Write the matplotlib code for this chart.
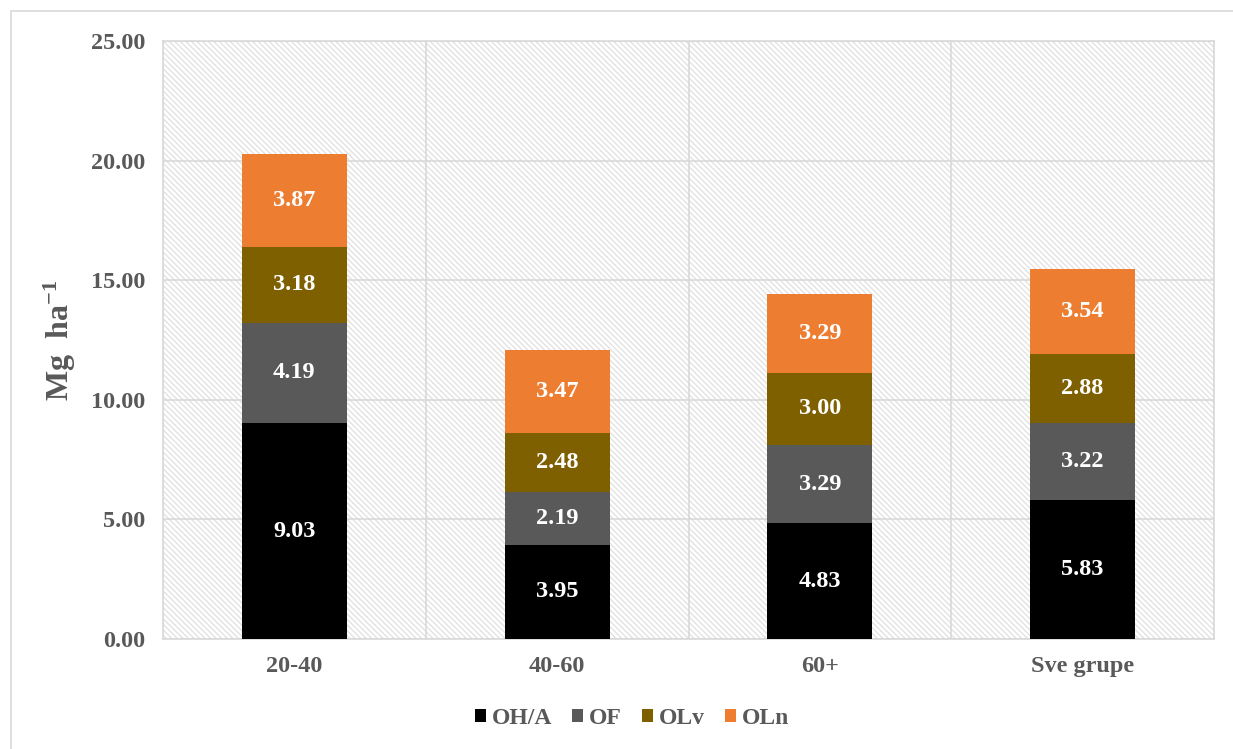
import matplotlib
matplotlib.use("Agg")
import matplotlib.pyplot as plt
from matplotlib.patches import Rectangle
import numpy as np

categories = ["20-40", "40-60", "60+", "Sve grupe"]
series_names = ["OH/A", "OF", "OLv", "OLn"]
oha = [9.03, 3.95, 4.83, 5.83]
of = [4.19, 2.19, 3.29, 3.22]
olv = [3.18, 2.48, 3.00, 2.88]
oln = [3.87, 3.47, 3.29, 3.54]
colors = ["#000000", "#595959", "#7F6000", "#ED7D31"]
yticks = [0, 5, 10, 15, 20, 25]

plt.rcParams['font.family'] = ['Liberation Serif', 'DejaVu Serif']
plt.rcParams['mathtext.fontset'] = 'custom'
plt.rcParams['mathtext.rm'] = 'Liberation Serif:bold'
plt.rcParams['mathtext.it'] = 'Liberation Serif:bold'
plt.rcParams['mathtext.bf'] = 'Liberation Serif:bold'
plt.rcParams['hatch.color'] = '#e0e0e0'
plt.rcParams['hatch.linewidth'] = 0.9

W, H = 1233, 749
fig = plt.figure(figsize=(W/100, H/100), dpi=100)
ax = fig.add_axes([163/W, 1 - 639/H, (1214-163)/W, (639-41)/H])

# outer frame
fig.patches.append(Rectangle((11/W, -0.1), 1.2, (749-11)/H + 0.1, transform=fig.transFigure,
                             fill=False, edgecolor='#d9d9d9', linewidth=1.2))

# hatched background
ax.patch.set_facecolor('white')
bg = Rectangle((0, 0), 1, 1, transform=ax.transAxes, facecolor='white',
               edgecolor='#e0e0e0', hatch='\\\\\\\\\\\\', linewidth=0, zorder=0)
ax.add_patch(bg)

x = np.arange(len(categories))
bottom = np.zeros(len(categories))
text_color = '#595959'
for vals, name, c in zip([oha, of, olv, oln], series_names, colors):
    v = np.array(vals)
    ax.bar(x, v, 0.4, bottom=bottom, color=c, label=name, zorder=3)
    for xi, b, vi in zip(x, bottom, v):
        ax.text(xi, b + vi/2, f"{vi:.2f}", ha='center', va='center', color='white',
                fontsize=17.5, fontweight='bold', zorder=4)
    bottom += v

ax.set_xlim(-0.5, len(categories) - 0.5)
ax.set_ylim(0, 25)
ax.set_yticks(yticks)
ax.set_yticklabels([f"{t:.2f}" for t in yticks])
ax.set_xticks(x)
ax.set_xticklabels(categories)
ax.set_xticks(np.arange(len(categories) + 1) - 0.5, minor=True)
ax.grid(True, axis='y', which='major', color='#d9d9d9', linewidth=1.2, zorder=1)
ax.grid(True, axis='x', which='minor', color='#d9d9d9', linewidth=1.2, zorder=1)
ax.set_axisbelow(True)
for s in ax.spines.values():
    s.set_color('#d9d9d9')
    s.set_linewidth(1.2)
ax.tick_params(axis='both', which='both', length=0, labelsize=17.5, labelcolor=text_color)
ax.tick_params(axis='y', pad=13)
ax.tick_params(axis='x', pad=12)
for lbl in ax.get_xticklabels() + ax.get_yticklabels():
    lbl.set_fontweight('bold')

ax.set_ylabel(r"Mg  ha$^{-1}$", fontsize=23, fontweight='bold', color=text_color, labelpad=9)

leg = fig.legend(loc='center', bbox_to_anchor=(632/W, 1 - 718/H), ncol=4, frameon=False,
                 prop={'size': 17, 'weight': 'bold'}, handlelength=0.47, handleheight=0.47,
                 handletextpad=0.25, columnspacing=0.85, borderpad=0, borderaxespad=0)
for t in leg.get_texts():
    t.set_color(text_color)

fig.savefig("out.png", dpi=100)
